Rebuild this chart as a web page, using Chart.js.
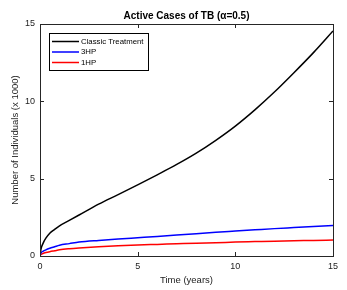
<!DOCTYPE html>
<html>
<head>
<meta charset="utf-8">
<script src="https://cdn.jsdelivr.net/npm/chart.js@4"></script>
<style>
  html, body { margin: 0; padding: 0; background: #fff; }
  #wrap { width: 347px; height: 290px; position: relative; }
</style>
</head>
<body>
<div id="wrap"><canvas id="myChart"></canvas></div>
<script>
const years   = [0, 0.05, 0.15, 0.3, 0.5, 0.75, 1, 1.5, 2, 3, 4, 5, 6, 7, 8, 9, 10, 11, 12, 13, 14, 15];
const classic = [0, 0.45, 0.8, 1.15, 1.47, 1.72, 1.95, 2.3, 2.65, 3.35, 3.97, 4.6, 5.25, 5.92, 6.65, 7.48, 8.4, 9.45, 10.6, 11.85, 13.15, 14.55];
const hp3     = [0, 0.2, 0.3, 0.4, 0.5, 0.6, 0.7, 0.8, 0.9, 1.01, 1.1, 1.18, 1.26, 1.35, 1.44, 1.53, 1.61, 1.69, 1.77, 1.84, 1.91, 1.98];
const hp1     = [0, 0.1, 0.16, 0.22, 0.28, 0.34, 0.4, 0.47, 0.52, 0.6, 0.66, 0.71, 0.75, 0.79, 0.83, 0.86, 0.9, 0.93, 0.96, 0.98, 1.01, 1.03];
const xTicks  = [0, 5, 10, 15];
const yTicks  = [0, 5, 10, 15];

const FONT = 'Liberation Sans, Arial, Helvetica, sans-serif';

function pts(vals) {
    return years.map((t, i) => ({ x: t, y: vals[i] }));
}

// box round the plot, inward ticks, title and legend (MATLAB look)
const matlabBox = {
    id: 'matlabBox',
    afterDraw(chart) {
        const c = chart.ctx;
        const a = chart.chartArea;
        const xs = chart.scales.x, ys = chart.scales.y;
        c.save();
        c.strokeStyle = '#262626';
        c.lineWidth = 1;
        c.strokeRect(a.left + 0.5, a.top + 0.5, a.right - a.left, a.bottom - a.top);
        c.beginPath();
        xTicks.forEach(v => {
            const px = Math.round(xs.getPixelForValue(v)) + 0.5;
            c.moveTo(px, a.bottom); c.lineTo(px, a.bottom - 4);
            c.moveTo(px, a.top); c.lineTo(px, a.top + 4);
        });
        yTicks.forEach(v => {
            const py = Math.round(ys.getPixelForValue(v)) + 0.5;
            c.moveTo(a.left, py); c.lineTo(a.left + 4, py);
            c.moveTo(a.right, py); c.lineTo(a.right - 4, py);
        });
        c.stroke();

        // title
        c.fillStyle = '#000';
        c.font = 'bold 10px ' + FONT;
        c.textAlign = 'center';
        c.textBaseline = 'middle';
        c.fillText('Active Cases of TB (\u03B1=0.5)', (a.left + a.right) / 2, 16);

        // legend
        const lx = 49, ly = 33, lw = 99, lh = 37;
        c.fillStyle = '#fff';
        c.fillRect(lx, ly, lw, lh);
        c.strokeStyle = '#000';
        c.strokeRect(lx + 0.5, ly + 0.5, lw, lh);
        c.font = '7.8px ' + FONT;
        c.textAlign = 'left';
        chart.data.datasets.forEach((ds, i) => {
            const yy = ly + 8.5 + i * 10.5;
            c.strokeStyle = ds.borderColor;
            c.lineWidth = 1.5;
            c.beginPath();
            c.moveTo(lx + 3, yy); c.lineTo(lx + 30, yy);
            c.stroke();
            c.fillStyle = '#000';
            c.fillText(ds.label, lx + 32, yy);
        });
        c.restore();
    }
};

new Chart(document.getElementById('myChart'), {
    type: 'line',
    data: {
        datasets: [
            { label: 'Classic Treatment', data: pts(classic), borderColor: '#000000' },
            { label: '3HP', data: pts(hp3), borderColor: '#0000ff' },
            { label: '1HP', data: pts(hp1), borderColor: '#ff0000' }
        ]
    },
    options: {
        responsive: true,
        maintainAspectRatio: false,
        animation: false,
        events: [],
        layout: { padding: { top: 24, right: 14, left: 0, bottom: 0 } },
        elements: {
            point: { radius: 0 },
            line: { borderWidth: 1.5, cubicInterpolationMode: 'monotone', fill: false }
        },
        plugins: {
            legend: { display: false },
            title: { display: false },
            tooltip: { enabled: false }
        },
        scales: {
            x: {
                type: 'linear',
                min: 0, max: 15,
                afterFit: s => { s.height = 34; },
                afterBuildTicks: s => { s.ticks = xTicks.map(v => ({ value: v })); },
                grid: { display: false, drawTicks: false, tickLength: 0 },
                border: { display: false },
                ticks: { padding: 5, color: '#222', font: { family: FONT, size: 9 }, maxRotation: 0 },
                title: { display: true, text: 'Time (years)', color: '#222',
                         font: { family: FONT, size: 9.5 }, padding: { top: 0, bottom: 4 } }
            },
            y: {
                min: 0, max: 15,
                afterFit: s => { s.width = 40; },
                afterBuildTicks: s => { s.ticks = yTicks.map(v => ({ value: v })); },
                grid: { display: false, drawTicks: false, tickLength: 0 },
                border: { display: false },
                ticks: { padding: 5, color: '#222', font: { family: FONT, size: 9 } },
                title: { display: true, text: 'Number of Individuals (x 1000)', color: '#222',
                         font: { family: FONT, size: 9.5 }, padding: { top: 10, bottom: 0 } }
            }
        }
    },
    plugins: [matlabBox]
});
</script>
</body>
</html>
